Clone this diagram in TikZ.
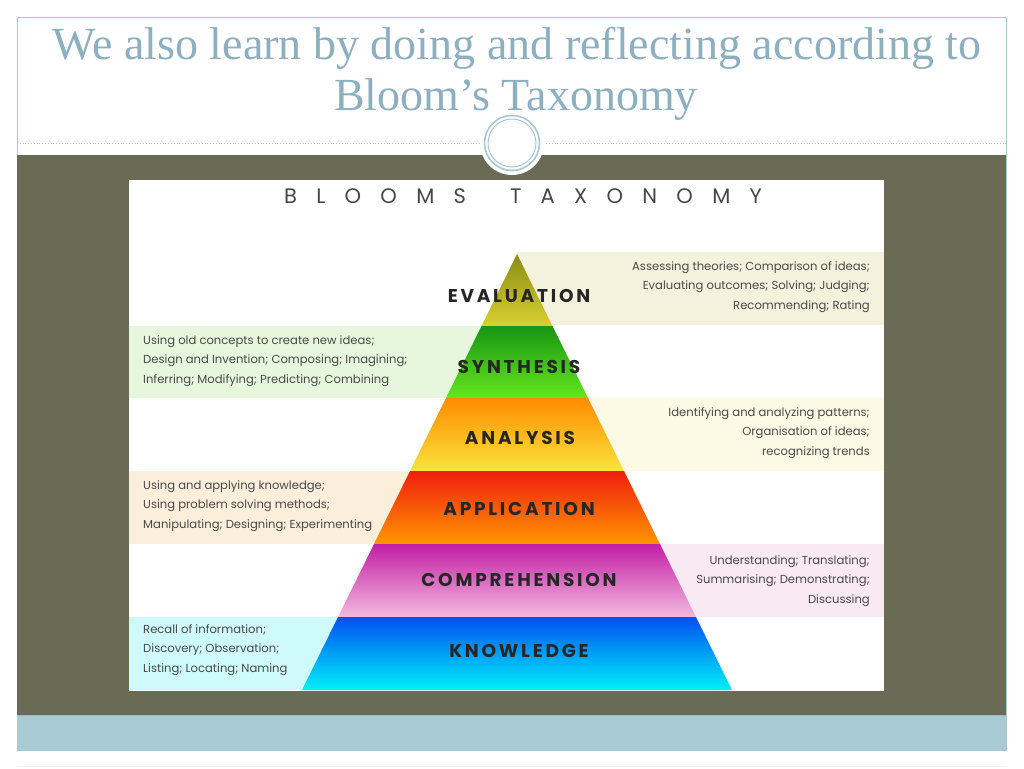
\documentclass[tikz,border=0pt]{standalone}
\usepackage{fontspec}
\setmainfont{Liberation Serif}
\newfontfamily\titlefont{Liberation Serif}
\newfontfamily\headfont[LetterSpace=92]{Poppins}
\newfontfamily\lvlfont[LetterSpace=15]{Poppins}
\newfontfamily\descfont{Poppins}
\definecolor{frameblue}{HTML}{A9C6D1}
\definecolor{titleblue}{HTML}{8CB0BF}
\definecolor{olive}{HTML}{696B55}
\definecolor{bandblue}{HTML}{A8CBD5}
\definecolor{desctext}{HTML}{4A4A4A}
\definecolor{bgEval}{HTML}{F4F2DC}
\definecolor{bgSynt}{HTML}{E6F7DE}
\definecolor{bgAnal}{HTML}{FCFAE4}
\definecolor{bgAppl}{HTML}{FBEFDC}
\definecolor{bgComp}{HTML}{F8E9F3}
\definecolor{bgKnow}{HTML}{CFFAFC}
\tikzset{
  desc/.style={font=\descfont\fontsize{11.6}{19.6}\selectfont, text=desctext, inner sep=0pt},
  descL/.style={desc, align=left, anchor=west},
  descR/.style={desc, align=right, anchor=east},
  lvl/.style={font=\lvlfont\bfseries\fontsize{18.5}{20}\selectfont, text=black!85, inner sep=0pt},
  ttl/.style={font=\titlefont\fontsize{46}{48}\selectfont, text=titleblue, inner sep=0pt}
}
\begin{document}
\begin{tikzpicture}[x=1pt,y=-1pt]
\useasboundingbox (0,0) rectangle (1024,768);
\fill[white] (0,0) rectangle (1024,768);
% frame
\draw[frameblue, line width=0.8pt] (17,17) rectangle (1006,750);
\draw[frameblue, line width=0.8pt, dotted] (17,143) -- (1006,143);
\fill[olive] (17,155) rectangle (1006,715);
\fill[bandblue] (17,715) rectangle (1006,750);
\draw[frameblue!80!gray, line width=0.8pt] (17,715) -- (1006,715);
\draw[black!6, line width=0.6pt] (17,766) -- (1006,766);
% title
\node[ttl] (t1) at (517,48) {We also learn by doing and reflecting according to};
\node[ttl] (t2) at (516,100) {Bloom’s Taxonomy};
% circle
\fill[white] (512,143) circle (32);
\draw[frameblue, line width=1.6pt] (512,143) circle (27.5);
\draw[frameblue, line width=1pt] (512,143) circle (24);
% image
\fill[white] (129,180) rectangle (884,691);
\node[font=\headfont\fontsize{21}{24}\selectfont, text=black!72, inner sep=0pt] (hd) at (523,196) {BLOOMS\hspace{44pt}TAXONOMY};
% side bands
\fill[bgEval] (517,252) rectangle (884,325);
\fill[bgSynt] (129,326) rectangle (517,398);
\fill[bgAnal] (517,398) rectangle (884,471);
\fill[bgAppl] (129,471) rectangle (517,544);
\fill[bgComp] (517,544) rectangle (884,617);
\fill[bgKnow] (129,617) rectangle (517,690);
% pyramid
\shade[top color={rgb,255:red,138;green,140;blue,20}, bottom color={rgb,255:red,218;green,208;blue,50}] (517,254) -- (552.5,326) -- (481.5,326) -- cycle;
\shade[top color={rgb,255:red,24;green,150;blue,20}, bottom color={rgb,255:red,100;green,230;blue,30}] (481.5,326) -- (552.5,326) -- (588,398) -- (446,398) -- cycle;
\shade[top color={rgb,255:red,255;green,140;blue,0}, bottom color={rgb,255:red,250;green,228;blue,60}] (446,398) -- (588,398) -- (624,471) -- (410,471) -- cycle;
\shade[top color={rgb,255:red,240;green,30;blue,15}, bottom color={rgb,255:red,255;green,150;blue,0}] (410,471) -- (624,471) -- (660,544) -- (374,544) -- cycle;
\shade[top color={rgb,255:red,195;green,30;blue,165}, bottom color={rgb,255:red,242;green,185;blue,222}] (374,544) -- (660,544) -- (696,617) -- (338,617) -- cycle;
\shade[top color={rgb,255:red,0;green,80;blue,240}, bottom color={rgb,255:red,0;green,240;blue,250}] (338,617) -- (696,617) -- (732,690) -- (302,690) -- cycle;
% level labels
\node[lvl] (eval) at (519,296) {EVALUATION};
\node[lvl] (synt) at (519,367) {SYNTHESIS};
\node[lvl] (anal) at (520,438) {ANALYSIS};
\node[lvl] (appl) at (519,509) {APPLICATION};
\node[lvl] (comp) at (519,580) {COMPREHENSION};
\node[lvl] (know) at (519,651) {KNOWLEDGE};
% descriptions
\node[descR] (dEval) at (870,287) {Assessing theories; Comparison of ideas;\\Evaluating outcomes; Solving; Judging;\\Recommending; Rating};
\node[descL] (dSynt) at (143,361) {Using old concepts to create new ideas;\\Design and Invention; Composing; Imagining;\\Inferring; Modifying; Predicting; Combining};
\node[descR] (dAnal) at (870,433) {Identifying and analyzing patterns;\\Organisation of ideas;\\recognizing trends};
\node[descL] (dAppl) at (143,506) {Using and applying knowledge;\\Using problem solving methods;\\Manipulating; Designing; Experimenting};
\node[descR] (dComp) at (870,581) {Understanding; Translating;\\Summarising; Demonstrating;\\Discussing};
\node[descL] (dKnow) at (143,650) {Recall of information;\\Discovery; Observation;\\Listing; Locating; Naming};
\end{tikzpicture}
\end{document}
